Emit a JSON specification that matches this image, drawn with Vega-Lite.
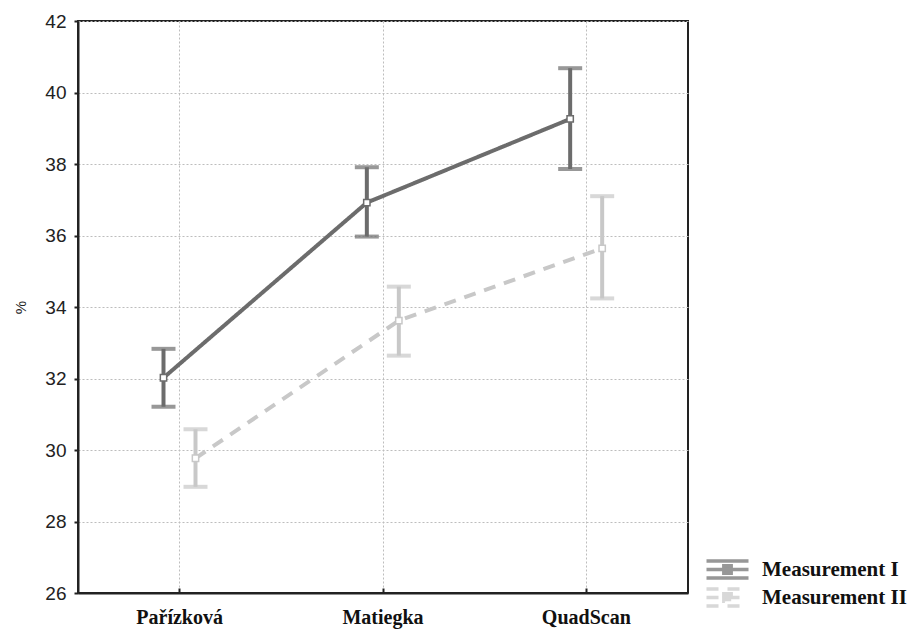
{
  "$schema": "https://vega.github.io/schema/vega-lite/v6.json",
  "width": 610,
  "height": 572,
  "autosize": {"type": "none"},
  "padding": {"left": 78, "top": 21, "right": 224, "bottom": 39},
  "background": "white",
  "config": {
    "view": {"stroke": "#222222", "strokeWidth": 2},
    "axis": {"domainColor": "#222222", "domainWidth": 2, "tickColor": "#222222"}
  },
  "data": {
    "values": [
      {"cat": "Pařízková", "series": "Measurement I", "mean": 32.02, "lo": 31.21, "hi": 32.83},
      {"cat": "Matiegka", "series": "Measurement I", "mean": 36.92, "lo": 35.97, "hi": 37.91},
      {"cat": "QuadScan", "series": "Measurement I", "mean": 39.26, "lo": 37.86, "hi": 40.68},
      {"cat": "Pařízková", "series": "Measurement II", "mean": 29.77, "lo": 28.97, "hi": 30.58},
      {"cat": "Matiegka", "series": "Measurement II", "mean": 33.62, "lo": 32.64, "hi": 34.57},
      {"cat": "QuadScan", "series": "Measurement II", "mean": 35.64, "lo": 34.24, "hi": 37.1}
    ]
  },
  "encoding": {
    "x": {
      "field": "cat", "type": "nominal", "sort": ["Pařízková", "Matiegka", "QuadScan"],
      "scale": {"type": "band", "paddingInner": 0, "paddingOuter": 0},
      "axis": {
        "title": null, "labelAngle": 0, "bandPosition": 0.5, "grid": true,
        "gridColor": "#bdbdbd", "gridDash": [2, 2], "gridWidth": 1,
        "labelFont": "Liberation Serif", "labelFontWeight": "bold", "labelFontSize": 20,
        "labelColor": "#111111", "labelPadding": 19, "tickSize": -5, "tickWidth": 2
      }
    },
    "xOffset": {
      "field": "series", "type": "nominal",
      "scale": {"type": "point", "padding": 0, "range": [85.5, 117.5]}
    },
    "color": {
      "field": "series", "type": "nominal",
      "scale": {"domain": ["Measurement I", "Measurement II"], "range": ["#6c6c6c", "#c8c8c8"]},
      "legend": {
        "title": null, "orient": "none", "legendX": 637, "legendY": 536, "padding": 0,
        "symbolType": "M-2,-0.8H2M-2,0H2M-2,0.8H2M-0.35,-0.35H0.35V0.35H-0.35Z",
        "symbolSize": 441, "symbolStrokeWidth": 3.5, "symbolFillColor": "white",
        "labelFont": "Liberation Serif", "labelFontWeight": "bold", "labelFontSize": 21,
        "labelColor": "#111111", "rowPadding": -20, "labelOffset": 22
      }
    }
  },
  "layer": [
    {
      "mark": {"type": "rule", "strokeWidth": 4},
      "encoding": {
        "y": {"field": "lo", "type": "quantitative"},
        "y2": {"field": "hi"}
      }
    },
    {
      "mark": {"type": "tick", "thickness": 4, "size": 24},
      "encoding": {"y": {"field": "lo", "type": "quantitative"}}
    },
    {
      "mark": {"type": "tick", "thickness": 4, "size": 24},
      "encoding": {"y": {"field": "hi", "type": "quantitative"}}
    },
    {
      "mark": {"type": "line", "strokeWidth": 4},
      "encoding": {
        "y": {
          "field": "mean", "type": "quantitative",
          "scale": {"domain": [26, 42], "nice": false, "zero": false},
          "axis": {
            "title": "%", "titleFont": "Liberation Sans", "titleFontSize": 15, "titleFontWeight": "normal",
            "titleColor": "#222222", "titlePadding": 16,
            "values": [26, 28, 30, 32, 34, 36, 38, 40, 42],
            "grid": true, "gridColor": "#bdbdbd", "gridDash": [2, 2], "gridWidth": 1,
            "labelFont": "Liberation Sans", "labelFontSize": 19, "labelColor": "#222222",
            "tickSize": 4, "tickWidth": 2, "labelPadding": 8
          }
        },
        "strokeDash": {
          "field": "series", "type": "nominal",
          "scale": {"domain": ["Measurement I", "Measurement II"], "range": [[1, 0], [12, 9]]},
          "legend": null
        }
      }
    },
    {
      "mark": {"type": "point", "shape": "square", "size": 40, "filled": false, "fill": "white", "fillOpacity": 1, "strokeWidth": 1.5, "opacity": 1},
      "encoding": {"y": {"field": "mean", "type": "quantitative"}}
    }
  ]
}
